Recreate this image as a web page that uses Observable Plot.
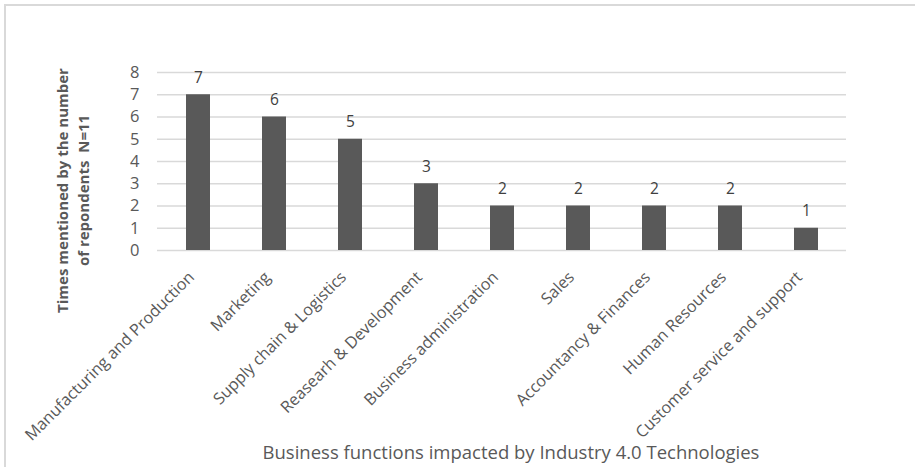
<!DOCTYPE html>
<html>
<head>
<meta charset="utf-8">
<script src="https://cdn.jsdelivr.net/npm/d3@7"></script>
<script src="https://cdn.jsdelivr.net/npm/@observablehq/plot@0.6"></script>
<style>
  html, body { margin: 0; padding: 0; background: #fff; }
  #wrap { position: relative; width: 915px; height: 467px; overflow: hidden; }
  #border { position: absolute; left: 4px; top: 4px; width: 960px; height: 520px; border: 2px solid #d9d9d9; box-sizing: border-box; }
  #chart { position: absolute; left: 0; top: 0; }
</style>
</head>
<body>
<div id="wrap"><div id="border"></div><div id="chart"></div></div>
<script>
const categories = [
  "Manufacturing and Production",
  "Marketing",
  "Supply chain & Logistics",
  "Reasearh & Development",
  "Business administration",
  "Sales",
  "Accountancy & Finances",
  "Human Resources",
  "Customer service and support"
];
const counts = [7, 6, 5, 3, 2, 2, 2, 2, 1];
const yTicks = [0, 1, 2, 3, 4, 5, 6, 7, 8];
const yTitle = "Times mentioned by the number\nof repondents  N=11";
const xTitle = "Business functions impacted by Industry 4.0 Technologies";

const data = categories.map((c, i) => ({category: c, count: counts[i]}));
const font = "'Open Sans', 'Noto Sans', sans-serif";

const chart = Plot.plot({
  width: 915,
  height: 467,
  marginLeft: 157,
  marginRight: 69,
  marginTop: 72,
  marginBottom: 217,
  style: {fontFamily: font, background: "transparent", overflow: "visible"},
  x: {domain: categories, paddingInner: 0.69, paddingOuter: 0.345, label: null},
  y: {domain: [0, 8], label: null},
  marks: [
    Plot.gridY(yTicks, {stroke: "#d9d9d9", strokeOpacity: 1, strokeWidth: 1.5}),
    Plot.barY(data, {x: "category", y: "count", fill: "#595959"}),
    Plot.text(data, {x: "category", y: "count", text: d => String(d.count), dy: -17, fill: "#404040", fontSize: 15.5}),
    Plot.axisY({ticks: yTicks, tickSize: 0, tickPadding: 18, fontSize: 16.5, fill: "#595959", label: null}),
    Plot.axisX({tickSize: 0, tickRotate: -45, tickPadding: 14, dx: -7, dy: 10, fontSize: 16.2, fill: "#595959", label: null}),
    Plot.text([yTitle], {frameAnchor: "left", textAnchor: "middle", dx: -86, dy: 29, rotate: -90, text: d => d, fontSize: 15, fontWeight: "bold", fill: "#595959", lineHeight: 1.4}),
    Plot.text([xTitle], {frameAnchor: "bottom", dx: 9, dy: 208, text: d => d, fontSize: 18.5, fill: "#595959"})
  ]
});
document.getElementById("chart").appendChild(chart);
</script>
</body>
</html>
